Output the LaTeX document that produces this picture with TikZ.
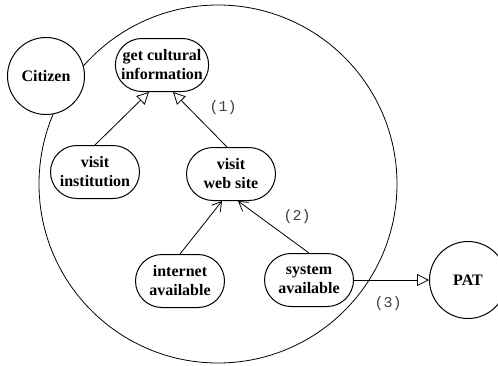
\documentclass[tikz,border=0pt]{standalone}
\usepackage{fontspec}
\setmainfont{Liberation Serif}
\setmonofont{Liberation Mono}
\usetikzlibrary{arrows.meta,shapes.misc}

\begin{document}
\begin{tikzpicture}[x=1pt,y=-1pt,line width=0.8pt,
  usecase/.style={rounded rectangle,draw,line width=1pt,fill=white,align=center,
    minimum width=91pt,minimum height=53pt,inner sep=1pt,
    font=\fontsize{16}{19}\selectfont\bfseries},
  actor/.style={circle,draw,line width=1pt,fill=white,minimum size=77pt,inner sep=0pt,
    font=\fontsize{16}{19}\selectfont\bfseries},
  gen/.style={-{Triangle[open,length=12pt,width=12pt]}},
  dep/.style={-{Straight Barb[length=9pt,width=11pt]}},
  num/.style={font=\fontsize{15}{18}\selectfont\ttfamily,text=black!75}]
\useasboundingbox (0,0) rectangle (498,365);
\draw (218,184) circle (179);
\node[actor] (citizen) at (46,76) {Citizen};
\node[actor] (pat) at (468,280) {PAT};
\node[usecase] (info) at (162,65) {get cultural\\information};
\node[usecase] (inst) at (95,172) {visit\\institution};
\node[usecase] (web) at (231,174) {visit\\web site};
\node[usecase] (net) at (180,281) {internet\\available};
\node[usecase] (sys) at (309,280) {system\\available};
\draw[gen] (inst.north) -- ([xshift=-13pt]info.south);
\draw[gen] ([xshift=-4pt]web.north) -- ([xshift=11pt]info.south);
\draw[dep] (net.north) -- ([xshift=-9pt]web.south);
\draw[dep] (sys.north) -- ([xshift=7pt]web.south);
\draw[gen] (sys.east) -- (pat.west);
\node[num] (n1) at (223,108) {(1)};
\node[num] (n2) at (297,217) {(2)};
\node[num] (n3) at (388,304) {(3)};
\end{tikzpicture}
\end{document}
